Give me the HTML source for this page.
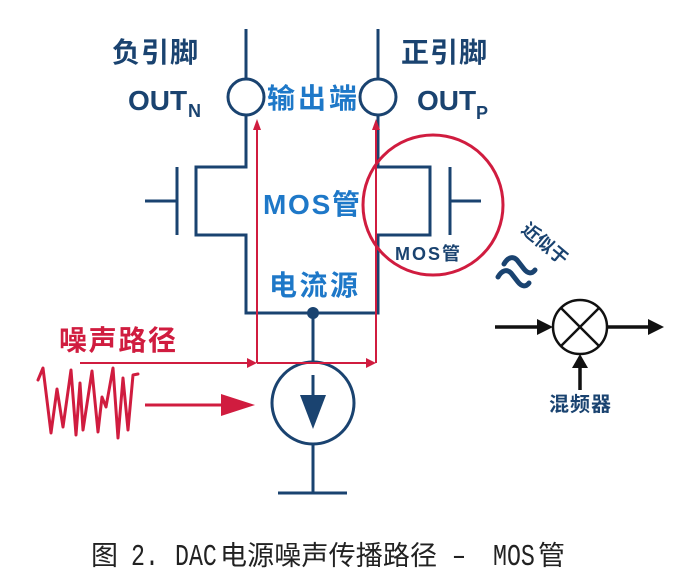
<!DOCTYPE html>
<html><head><meta charset="utf-8"><style>
html,body{margin:0;padding:0;background:#fff;}
svg{display:block;}
.b{font-family:"Liberation Sans","Noto Sans CJK SC",sans-serif;font-weight:bold;}
</style></head><body>
<svg width="678" height="584" viewBox="0 0 678 584" xmlns="http://www.w3.org/2000/svg">
<g fill="none" stroke="#1a4370" stroke-width="3">
  <line x1="246" y1="29" x2="246" y2="79"/>
  <line x1="378" y1="29" x2="378" y2="79"/>
  <circle cx="246" cy="97" r="18"/>
  <circle cx="378" cy="97" r="18"/>
  <path d="M246,115 V167 H196 V235 H246 V313 H378 V235 H430 V167 H378 V115"/>
  <line x1="177" y1="167" x2="177" y2="235"/>
  <line x1="145" y1="201" x2="177" y2="201"/>
  <line x1="450" y1="167" x2="450" y2="235"/>
  <line x1="450" y1="201" x2="481" y2="201"/>
  <line x1="313" y1="313" x2="313" y2="362"/>
  <circle cx="313" cy="403" r="41"/>
  <line x1="313" y1="375" x2="313" y2="398"/>
  <line x1="313" y1="444" x2="313" y2="493"/>
  <line x1="278" y1="493" x2="347" y2="493"/>
</g>
<circle cx="313" cy="313" r="6" fill="#1a4370"/>
<polygon points="300,395 326,395 313,429" fill="#1a4370"/>

<g stroke="#d01c3f" stroke-width="2" fill="none">
  <line x1="80" y1="363" x2="250" y2="363"/>
  <line x1="257" y1="363" x2="368" y2="363"/>
  <line x1="257" y1="363" x2="257" y2="128"/>
  <line x1="376" y1="363" x2="376" y2="128"/>
</g>
<g fill="#d01c3f">
  <polygon points="247,358 257,363 247,368"/>
  <polygon points="366,358 376,363 366,368"/>
  <polygon points="253,130 257,119 261,130"/>
  <polygon points="372,130 376,119 380,130"/>
</g>
<circle cx="433" cy="205" r="70" fill="none" stroke="#d01c3f" stroke-width="3"/>

<polyline points="38,380 43,368 51,433 57,389 63,427 71,370 76,435 80,383 83,430 92,371 98,432 102,397 106,407 113,368 118,438 123,378 128,430 133,375 138,374" fill="none" stroke="#d01c3f" stroke-width="3" stroke-linejoin="round" stroke-linecap="round"/>
<line x1="145" y1="405" x2="225" y2="405" stroke="#d01c3f" stroke-width="3"/>
<polygon points="221,394 255,405 221,416" fill="#d01c3f"/>

<g stroke="#111" stroke-width="2.5" fill="none">
  <circle cx="580" cy="327" r="27"/>
  <line x1="561" y1="308" x2="599" y2="346"/>
  <line x1="599" y1="308" x2="561" y2="346"/>
  <line x1="495" y1="327" x2="540" y2="327" stroke-width="3.5"/>
  <line x1="607" y1="327" x2="650" y2="327" stroke-width="3.5"/>
  <line x1="580" y1="390" x2="580" y2="365" stroke-width="3.5"/>
</g>
<g fill="#111">
  <polygon points="537,319 553,327 537,335"/>
  <polygon points="648,319 664,327 648,335"/>
  <polygon points="572,368 580,354 588,368"/>
</g>

<g fill="none" stroke="#1a4370" stroke-width="5" stroke-linecap="round" stroke-linejoin="round">
  <path d="M504,264 C508,257 513,256 517,260 L524,269 C528,274 532,274 535,270"/>
  <path d="M498,277 C502,270 507,269 511,273 L518,282 C522,287 526,287 529,283"/>
</g>
<text class="b" x="0" y="0" transform="translate(544,245) rotate(40)" text-anchor="middle" dominant-baseline="middle" font-size="18" fill="#1a4370">近似于</text>

<text class="b" x="112" y="62" font-size="28" fill="#1a4370" textLength="86">负引脚</text>
<text class="b" x="401" y="62" font-size="28" fill="#1a4370" textLength="86">正引脚</text>
<text class="b" x="128" y="110" font-size="28" fill="#1a4370">OUT</text>
<text class="b" x="188" y="117" font-size="18" fill="#1a4370">N</text>
<text class="b" x="417" y="110" font-size="28" fill="#1a4370">OUT</text>
<text class="b" x="476" y="119" font-size="18" fill="#1a4370">P</text>
<text class="b" x="267" y="108" font-size="28" fill="#1e78c8" textLength="90">输出端</text>
<text class="b" x="263" y="214" font-size="28" fill="#1e78c8" textLength="97">MOS管</text>
<text class="b" x="395" y="260" font-size="18" fill="#1a4370" textLength="65">MOS管</text>
<text class="b" x="269" y="295" font-size="28" fill="#1e78c8" textLength="89">电流源</text>
<text class="b" x="59" y="350" font-size="28" fill="#d01c3f" textLength="117">噪声路径</text>
<text class="b" x="549" y="411" font-size="20" fill="#1a4370" textLength="62">混频器</text>

<g fill="#222" font-family="'Noto Sans CJK SC','WenQuanYi Zen Hei',sans-serif" font-size="27">
  <text x="91" y="565">图</text>
  <text x="220" y="565" textLength="217">电源噪声传播路径</text>
  <text x="538" y="565">管</text>
</g>
<g fill="#222" font-family="'Liberation Mono',monospace" font-size="31">
  <text transform="translate(131,565) scale(0.75,1)">2.</text>
  <text transform="translate(175,565) scale(0.75,1)">DAC</text>
  <text transform="translate(452,565) scale(0.75,1)">–</text>
  <text transform="translate(493,565) scale(0.75,1)">MOS</text>
</g>
</svg>
</body></html>
